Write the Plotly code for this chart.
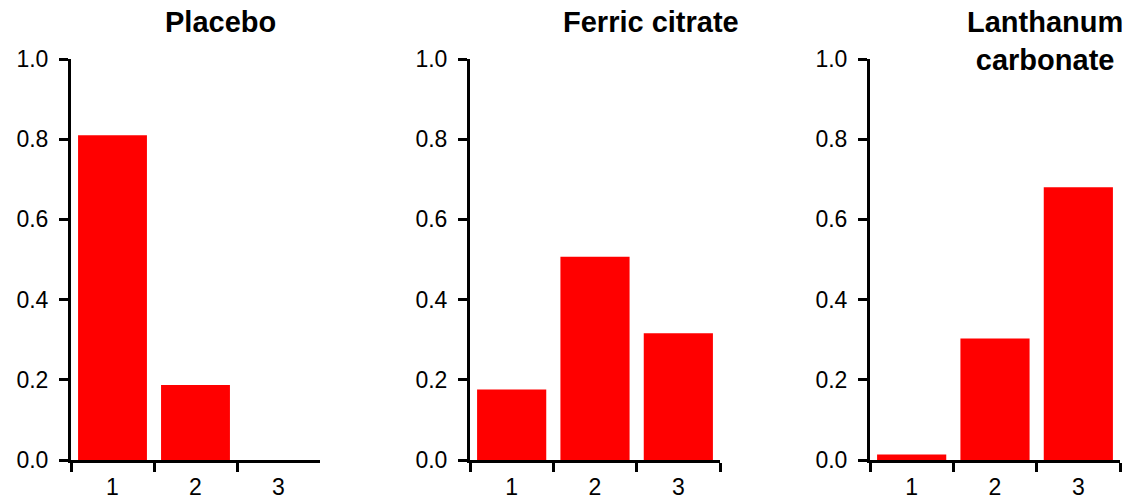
import plotly.graph_objects as go

categories = ["1", "2", "3"]
panel_titles = ["Placebo", "Ferric citrate", "Lanthanum<br>carbonate"]
placebo = [0.810, 0.187, 0.0]
ferric_citrate = [0.176, 0.507, 0.316]
lanthanum_carbonate = [0.014, 0.303, 0.680]
y_tickvals = [0.0, 0.2, 0.4, 0.6, 0.8, 1.0]
y_ticktext = ["0.0", "0.2", "0.4", "0.6", "0.8", "1.0"]

series = [placebo, ferric_citrate, lanthanum_carbonate]

W, H = 1126, 503
x_domains_px = [(71, 320), (470, 720), (870, 1120)]
y_bottom_px, y_top_px = 460, 59
title_centers_px = [220, 651, 1045]

FONT = "Liberation Sans, Arial, sans-serif"

fig = go.Figure()
layout = dict(
    width=W, height=H,
    margin=dict(l=0, r=0, t=0, b=0, autoexpand=False),
    paper_bgcolor="white", plot_bgcolor="white",
    showlegend=False,
    bargap=0.17,
    font=dict(family=FONT, color="black"),
)

annotations = []
for i, (vals, title) in enumerate(zip(series, panel_titles)):
    suffix = "" if i == 0 else str(i + 1)
    fig.add_trace(go.Bar(
        x=categories, y=vals,
        marker=dict(color="#FF0000", line=dict(width=0)),
        xaxis="x" + suffix, yaxis="y" + suffix,
        hoverinfo="x+y",
    ))
    x0, x1 = x_domains_px[i]
    layout["xaxis" + suffix] = dict(
        domain=[x0 / W, x1 / W],
        type="category",
        range=[-0.5, 2.5],
        tickson="boundaries",
        ticks="outside", ticklen=9, tickwidth=3, tickcolor="black",
        showline=True, linewidth=3, linecolor="black",
        showgrid=False, zeroline=False,
        tickfont=dict(size=23, family=FONT, color="black"),
        ticklabelstandoff=4,
        anchor="y" + suffix,
        automargin=False,
        fixedrange=True,
    )
    layout["yaxis" + suffix] = dict(
        domain=[(H - y_bottom_px) / H, (H - y_top_px) / H],
        range=[0, 1.0],
        tickvals=y_tickvals, ticktext=y_ticktext,
        ticks="outside", ticklen=9, tickwidth=3, tickcolor="black",
        showline=True, linewidth=3, linecolor="black",
        showgrid=False, zeroline=False,
        tickfont=dict(size=23, family=FONT, color="black"),
        ticklabelstandoff=6,
        anchor="x" + suffix,
        automargin=False,
        fixedrange=True,
    )
    annotations.append(dict(
        text="<b>" + title + "</b>",
        xref="paper", yref="paper",
        x=title_centers_px[i] / W, y=1 - 4 / H,
        xanchor="center", yanchor="top",
        showarrow=False,
        font=dict(size=29, family=FONT, color="black"),
        align="center",
    ))

layout["annotations"] = annotations
fig.update_layout(**layout)
fig.write_html(
    "out.html",
    config={"displayModeBar": False},
    post_script="document.body.style.margin='0px';document.body.style.overflow='hidden';",
)
